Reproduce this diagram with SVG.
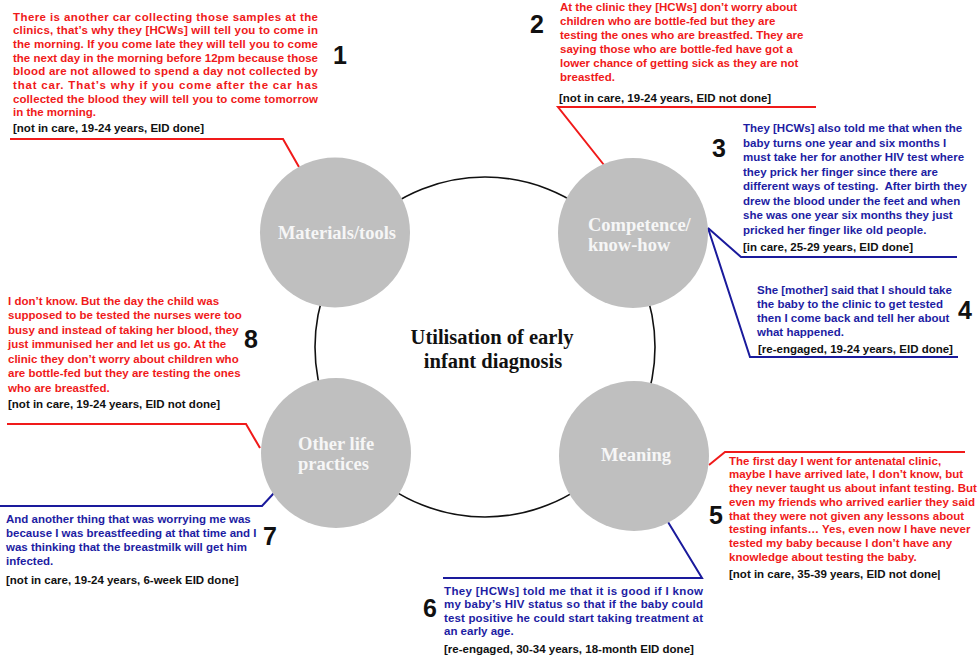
<svg xmlns="http://www.w3.org/2000/svg" width="980" height="656" viewBox="0 0 980 656">
<style>
.q{font-family:"Liberation Sans",Arial,sans-serif;font-size:11.5px;font-weight:bold}
.r{fill:#f01a1a}
.b{fill:#1d1da3}
.k{fill:#111}
.num{font-family:"Liberation Sans",Arial,sans-serif;font-size:25px;font-weight:bold;fill:#111;text-anchor:middle}
.gc{fill:#bfbfbf}
.nl{font-family:"Liberation Serif","Times New Roman",serif;font-size:18.5px;font-weight:bold;fill:#f6f6f6}
.ct{font-family:"Liberation Serif","Times New Roman",serif;font-size:20.5px;font-weight:bold;fill:#111;text-anchor:middle}
.cr{fill:none;stroke:#f01a1a;stroke-width:2}
.cb{fill:none;stroke:#1a1a9c;stroke-width:2}
</style>
<rect width="980" height="656" fill="#fff"/>

<g id="centre">
<circle cx="485" cy="347" r="170" fill="none" stroke="#111" stroke-width="1.6"/>
<text class="ct" x="492" y="344">Utilisation of early</text>
<text class="ct" x="493" y="368">infant diagnosis</text>
</g>

<g id="connectors">
<polyline class="cr" points="10,139 283,139 299,167"/>
<polyline class="cr" points="816,107 558,107 604,165"/>
<polyline class="cb" points="708,228 741,257 957,257"/>
<polyline class="cb" points="708,228 750,357 958,357"/>
<polyline class="cr" points="709,465 725,452 965,452"/>
<polyline class="cb" points="668,522 702,578 443,578"/>
<polyline class="cb" points="274,493 262,506 0,506"/>
<polyline class="cr" points="7,424 246,424 260,448"/>
</g>

<g id="materials-tools">
<circle class="gc" cx="335" cy="232.5" r="75"/>
<text class="nl" x="337" y="239" text-anchor="middle">Materials/tools</text>
</g>
<g id="competence">
<circle class="gc" cx="633" cy="233" r="75"/>
<text class="nl" x="588" y="231">Competence/</text>
<text class="nl" x="588" y="251">know-how</text>
</g>
<g id="other-life-practices">
<circle class="gc" cx="336" cy="453" r="75"/>
<text class="nl" x="298" y="450">Other life</text>
<text class="nl" x="298" y="470">practices</text>
</g>
<g id="meaning">
<circle class="gc" cx="634" cy="456" r="75"/>
<text class="nl" x="636" y="461" text-anchor="middle">Meaning</text>
</g>

<g id="quote-1" class="q">
<text class="r" x="13" y="20.5" textLength="305" lengthAdjust="spacing">There is another car collecting those samples at the</text>
<text class="r" x="13" y="34.2" textLength="305" lengthAdjust="spacing">clinics, that’s why they [HCWs] will tell you to come in</text>
<text class="r" x="13" y="47.9" textLength="305" lengthAdjust="spacing">the morning. If you come late they will tell you to come</text>
<text class="r" x="13" y="61.6" textLength="305" lengthAdjust="spacing">the next day in the morning before 12pm because those</text>
<text class="r" x="13" y="75.3" textLength="305" lengthAdjust="spacing">blood are not allowed to spend a day not collected by</text>
<text class="r" x="13" y="89" textLength="305" lengthAdjust="spacing">that car. That’s why if you come after the car has</text>
<text class="r" x="13" y="102.7" textLength="305" lengthAdjust="spacing">collected the blood they will tell you to come tomorrow</text>
<text class="r" x="13" y="116.4">in the morning.</text>
<text class="k" x="13" y="132">[not in care, 19-24 years, EID done]</text>
<text class="num" x="340" y="64">1</text>
</g>

<g id="quote-2" class="q">
<text class="r" x="560" y="11">At the clinic they [HCWs] don’t worry about</text>
<text class="r" x="560" y="25">children who are bottle-fed but they are</text>
<text class="r" x="560" y="39">testing the ones who are breastfed. They are</text>
<text class="r" x="560" y="53">saying those who are bottle-fed have got a</text>
<text class="r" x="560" y="67">lower chance of getting sick as they are not</text>
<text class="r" x="560" y="81">breastfed.</text>
<text class="k" x="559" y="101.5">[not in care, 19-24 years, EID not done]</text>
<text class="num" x="537" y="33">2</text>
</g>

<g id="quote-3" class="q">
<text class="b" x="743" y="132">They [HCWs] also told me that when the</text>
<text class="b" x="743" y="146.5">baby turns one year and six months I</text>
<text class="b" x="743" y="161">must take her for another HIV test where</text>
<text class="b" x="743" y="175.5">they prick her finger since there are</text>
<text class="b" x="743" y="190">different ways of testing.&#160; After birth they</text>
<text class="b" x="743" y="204.5">drew the blood under the feet and when</text>
<text class="b" x="743" y="219">she was one year six months they just</text>
<text class="b" x="743" y="233.5">pricked her finger like old people.</text>
<text class="k" x="743" y="251">[in care, 25-29 years, EID done]</text>
<text class="num" x="719" y="157">3</text>
</g>

<g id="quote-4" class="q">
<text class="b" x="757" y="293.5">She [mother] said that I should take</text>
<text class="b" x="757" y="307.7">the baby to the clinic to get tested</text>
<text class="b" x="757" y="322">then I come back and tell her about</text>
<text class="b" x="757" y="336">what happened.</text>
<text class="k" x="758" y="352.5">[re-engaged, 19-24 years, EID done]</text>
<text class="num" x="965" y="319">4</text>
</g>

<g id="quote-5" class="q">
<text class="r" x="729" y="464.5">The first day I went for antenatal clinic,</text>
<text class="r" x="729" y="478.3">maybe I have arrived late, I don’t know, but</text>
<text class="r" x="729" y="492">they never taught us about infant testing. But</text>
<text class="r" x="729" y="506">even my friends who arrived earlier they said</text>
<text class="r" x="729" y="519.5">that they were not given any lessons about</text>
<text class="r" x="729" y="533.3">testing infants… Yes, even now I have never</text>
<text class="r" x="729" y="547">tested my baby because I don’t have any</text>
<text class="r" x="729" y="561">knowledge about testing the baby.</text>
<text class="k" x="729" y="577.5">[not in care, 35-39 years, EID not done|</text>
<text class="num" x="716" y="524">5</text>
</g>

<g id="quote-6" class="q">
<text class="b" x="444" y="594.5" textLength="259" lengthAdjust="spacing">They [HCWs] told me that it is good if I know</text>
<text class="b" x="444" y="608" textLength="259" lengthAdjust="spacing">my baby’s HIV status so that if the baby could</text>
<text class="b" x="444" y="621.5" textLength="259" lengthAdjust="spacing">test positive he could start taking treatment at</text>
<text class="b" x="444" y="635">an early age.</text>
<text class="k" x="444" y="653">[re-engaged, 30-34 years, 18-month EID done]</text>
<text class="num" x="430" y="617">6</text>
</g>

<g id="quote-7" class="q">
<text class="b" x="6" y="522.5">And another thing that was worrying me was</text>
<text class="b" x="6" y="537">because I was breastfeeding at that time and I</text>
<text class="b" x="6" y="551">was thinking that the breastmilk will get him</text>
<text class="b" x="6" y="564.5">infected.</text>
<text class="k" x="6" y="584">[not in care, 19-24 years, 6-week EID done]</text>
<text class="num" x="270" y="545">7</text>
</g>

<g id="quote-8" class="q">
<text class="r" x="8" y="304.5">I don’t know. But the day the child was</text>
<text class="r" x="8" y="319">supposed to be tested the nurses were too</text>
<text class="r" x="8" y="333.5">busy and instead of taking her blood, they</text>
<text class="r" x="8" y="348">just immunised her and let us go. At the</text>
<text class="r" x="8" y="362.5">clinic they don’t worry about children who</text>
<text class="r" x="8" y="377">are bottle-fed but they are testing the ones</text>
<text class="r" x="8" y="391.5">who are breastfed.</text>
<text class="k" x="8" y="407.5">[not in care, 19-24 years, EID not done]</text>
<text class="num" x="251" y="348">8</text>
</g>
</svg>
